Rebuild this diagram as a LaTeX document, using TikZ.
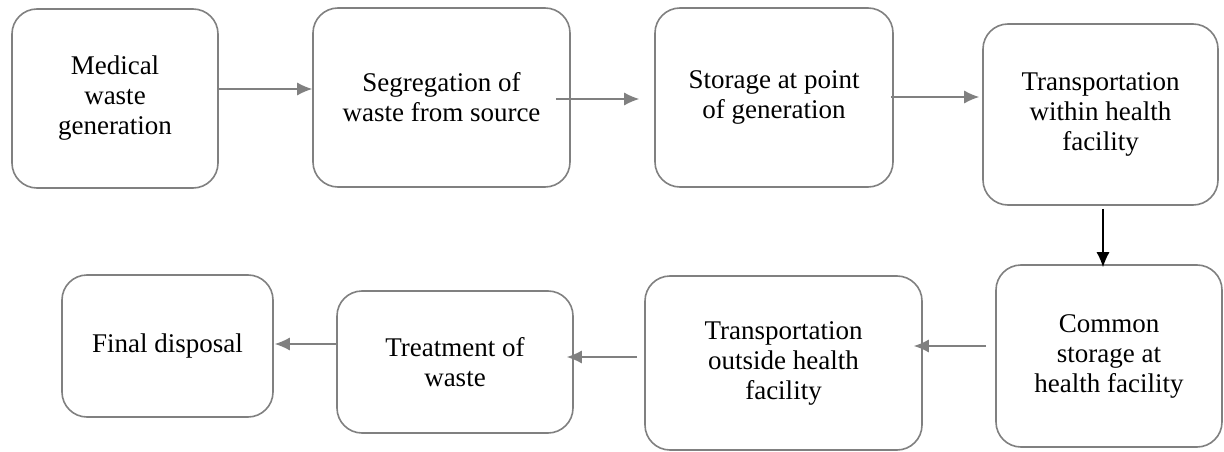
\documentclass[tikz,border=0pt]{standalone}
\usepackage{fontspec}
\setmainfont{Liberation Serif}
\newfontfamily\boxfont{Liberation Serif}
\usetikzlibrary{arrows.meta}
\definecolor{boxgray}{RGB}{128,128,128}
\tikzset{
  stepbox/.style={draw=boxgray, line width=1.6pt, rounded corners=25pt, fill=white,
    inner sep=0pt, align=center, font=\boxfont\fontsize{27}{30}\selectfont},
  arr/.style={draw=boxgray, line width=1.2pt, -{Latex[length=15pt,width=13pt]}},
  arrblack/.style={draw=black, line width=1.2pt, -{Latex[length=15pt,width=13pt]}}
}
\begin{document}
\begin{tikzpicture}[x=1pt,y=1pt]
\useasboundingbox (0,0) rectangle (1224,-452);
\node[stepbox, minimum width=206pt, minimum height=179pt] (b1) at (115,-98.5) {Medical\\waste\\generation};
\node[stepbox, minimum width=257pt, minimum height=179pt] (b2) at (441.5,-97.5) {Segregation of\\waste from source};
\node[stepbox, minimum width=238pt, minimum height=179pt] (b3) at (774,-97.5) {Storage at point\\of generation};
\node[stepbox, minimum width=235pt, minimum height=181pt] (b4) at (1100.5,-114.5) {Transportation\\within health\\facility};
\node[stepbox, minimum width=226pt, minimum height=182pt] (b5) at (1109,-356) {Common\\storage at\\health facility};
\node[stepbox, minimum width=277pt, minimum height=174pt] (b6) at (783.5,-363) {Transportation\\outside health\\facility};
\node[stepbox, minimum width=236pt, minimum height=142pt] (b7) at (455,-362) {Treatment of\\waste};
\node[stepbox, minimum width=211pt, minimum height=142pt] (b8) at (167.5,-346) {Final disposal};
\draw[arr] ([yshift=9.5pt]b1.east) -- ([yshift=9.5pt]b1.east -| b2.west);
\draw[arr] ([xshift=-15pt,yshift=-1.5pt]b2.east) -- ([xshift=-15pt,yshift=-1.5pt]b2.east -| b3.west);
\draw[arr] ([xshift=-3pt,yshift=0.5pt]b3.east) -- ([xshift=-3pt,yshift=0.5pt]b3.east -| b4.west);
\draw[arrblack] ([xshift=2.5pt,yshift=-3pt]b4.south) -- ([xshift=2.5pt,yshift=-3pt]b4.south |- b5.north);
\draw[arr] ([xshift=-9pt,yshift=10pt]b5.west) -- ([xshift=-9pt,yshift=10pt]b5.west -| b6.east);
\draw[arr] ([xshift=-7pt,yshift=6pt]b6.west) -- ([xshift=-7pt,yshift=6pt]b6.west -| b7.east);
\draw[arr] ([xshift=1pt,yshift=18pt]b7.west) -- ([xshift=1pt,yshift=18pt]b7.west -| b8.east);
\end{tikzpicture}
\end{document}
